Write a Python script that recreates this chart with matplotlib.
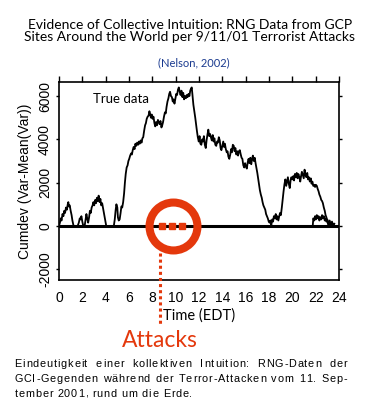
import matplotlib
matplotlib.use("Agg")
import matplotlib.pyplot as plt
import matplotlib.transforms as mtransforms

# cumulative deviation (hours EDT, cumdev)
hours = [0.0, 0.08, 0.15, 0.22, 0.3, 0.38, 0.45, 0.52, 0.6, 0.68, 0.75, 0.8, 0.85, 0.92, 1.0, 1.08, 1.15, 1.25,
         1.6, 1.7, 1.78, 1.85, 1.92, 2.0, 2.08, 2.2, 2.28, 2.35, 2.42, 2.5, 2.58, 2.65, 2.72, 2.8, 2.88, 2.95,
         3.02, 3.1, 3.18, 3.25, 3.32, 3.4, 3.48, 3.55, 3.62, 3.7, 3.78, 3.85, 3.95, 4.05, 4.7, 4.78, 4.85, 4.92,
         5.0, 5.05, 5.12, 5.2, 5.28, 5.35, 5.42, 5.5, 5.58, 5.65, 5.72, 5.8, 5.88, 5.95, 6.02, 6.1, 6.18, 6.25,
         6.32, 6.4, 6.48, 6.55, 6.62, 6.7, 6.78, 6.85, 6.92, 7.0, 7.08, 7.15, 7.22, 7.3, 7.38, 7.45, 7.52, 7.6,
         7.68, 7.75, 7.8, 7.88, 7.95, 8.02, 8.1, 8.18, 8.25, 8.32, 8.4, 8.48, 8.55, 8.62, 8.7, 8.78, 8.85, 8.92,
         9.0, 9.08, 9.15, 9.22, 9.3, 9.38, 9.45, 9.52, 9.6, 9.68, 9.75, 9.82, 9.9, 9.98, 10.05, 10.12, 10.2,
         10.27, 10.35, 10.42, 10.5, 10.58, 10.65, 10.72, 10.8, 10.88, 10.95, 11.02, 11.1, 11.18, 11.25, 11.32,
         11.38, 11.45, 11.52, 11.6, 11.68, 11.75, 11.82, 11.9, 11.98, 12.05, 12.12, 12.2, 12.28, 12.35, 12.42,
         12.5, 12.58, 12.65, 12.72, 12.8, 12.88, 12.95, 13.02, 13.1, 13.18, 13.25, 13.32, 13.4, 13.48, 13.55,
         13.62, 13.7, 13.78, 13.85, 13.92, 14.0, 14.08, 14.15, 14.22, 14.3, 14.38, 14.45, 14.52, 14.6, 14.68,
         14.75, 14.82, 14.9, 14.98, 15.05, 15.12, 15.2, 15.28, 15.35, 15.42, 15.5, 15.58, 15.65, 15.72, 15.8,
         15.88, 15.95, 16.02, 16.1, 16.18, 16.25, 16.32, 16.4, 16.48, 16.55, 16.62, 16.7, 16.78, 16.85, 16.92,
         17.0, 17.08, 17.15, 17.22, 17.3, 17.38, 17.45, 17.52, 17.6, 17.68, 17.75, 17.82, 17.9, 17.98, 18.05,
         18.12, 18.2, 18.28, 18.35, 18.42, 18.5, 18.58, 18.65, 18.72, 18.8, 18.88, 18.95, 19.02, 19.1, 19.18,
         19.25, 19.32, 19.4, 19.48, 19.55, 19.62, 19.7, 19.78, 19.85, 19.92, 20.0, 20.08, 20.15, 20.22, 20.3,
         20.38, 20.45, 20.52, 20.6, 20.68, 20.75, 20.82, 20.9, 20.98, 21.05, 21.12, 21.2, 21.28, 21.35, 21.42,
         21.5, 21.58, 21.65, 21.72, 21.8, 21.88, 21.95, 22.02, 22.1, 22.18, 22.25, 22.32, 22.4, 22.48, 22.55,
         22.62, 22.7, 22.78, 22.85, 22.92, 23.0, 23.08, 23.18, 23.25, 23.3, 23.4, 23.5, 23.6, 23.7, 24.0]
cumdev = [0, 150, 350, 250, 550, 450, 700, 600, 850, 750, 1000, 1100, 900, 950, 700, 500, 250, 0,
          0, 150, 350, 300, 450, 200, 0, 0, 300, 550, 350, 150, 400, 700, 600, 850, 950, 1100,
          950, 1200, 1050, 1300, 1150, 1400, 1100, 1250, 950, 1050, 800, 600, 300, 0, 0, 300, 700, 1000,
          850, 400, 250, 300, 600, 900, 850, 1100, 1500, 2000, 2400, 2700, 2800, 3000, 3100, 3250, 3350, 3300,
          3500, 3650, 3550, 3800, 3700, 3850, 3750, 3900, 3800, 3950, 3850, 4050, 4100, 4400, 4650, 4750, 4950, 5050,
          5100, 5300, 5200, 5000, 5150, 4950, 5050, 4750, 4600, 4800, 4650, 4900, 4800, 4700, 4850, 4550, 4650, 4800,
          5050, 5250, 5200, 5500, 5750, 5900, 6100, 6200, 6000, 5950, 5750, 5850, 5650, 5900, 6100, 6050, 6300,
          6400, 6200, 6050, 6250, 5950, 6150, 5850, 6000, 5900, 6050, 5950, 6100, 6000, 6250, 6350,
          6400, 6000, 5600, 5300, 5000, 4700, 4400, 4100, 3900, 4150, 3800, 3750, 4000, 3900, 4150,
          3750, 3600, 3950, 4200, 4450, 4150, 4250, 4100, 3950, 4200, 3900, 4050, 3750, 3700, 3900,
          3850, 4100, 3950, 3600, 3500, 3700, 3900, 3650, 3800, 3550, 3400, 3450, 3200, 3100, 3300,
          3550, 3400, 3750, 3700, 3450, 3600, 3300, 3450, 3250, 3450, 3500, 3300, 3150, 3100, 2800,
          2700, 2900, 2750, 2650, 2950, 3100, 2900, 3150, 2850, 3100, 3250, 3000, 3150, 2900, 2700,
          2450, 2150, 1900, 1650, 1450, 1300, 1100, 950, 850, 750, 550, 450, 350, 200, 150,
          250, 50, 300, 200, 450, 350, 550, 300, 450, 250, 450, 600, 500, 850, 1250,
          1600, 1900, 2150, 1850, 2050, 2250, 1950, 1750, 2100, 2250, 2150, 2300, 2100, 2400, 2250,
          2450, 2200, 2400, 2250, 2050, 2300, 2500, 2350, 2200, 2600, 2400, 2250, 2450, 2150, 2250,
          2050, 2200, 1950, 2050, 1850, 1900, 1800, 1900, 1850, 1700, 1600, 1450, 1350, 1200, 1150,
          1050, 850, 700, 500, 400, 200, 50, 150, 0, 150, 0, 100, 0, 0, 0]

# second, short noisy trace near the end of the day
late_hours = [21.75, 21.8, 21.88, 21.95, 22.02, 22.1, 22.18, 22.25, 22.32, 22.4, 22.48, 22.55, 22.62, 22.7,
              22.78, 22.85, 22.92, 23.0, 23.1, 23.2, 23.3, 23.4, 23.5, 23.6]
late_cumdev = [0, 350, 250, 450, 300, 500, 350, 450, 250, 400, 300, 500, 350, 450,
               250, 350, 200, 300, 100, 250, 50, 200, 0, 100]

attack_times = [8.85, 9.72, 10.58]
circle_time = 9.75
pointer_time = 8.66
x_ticks = list(range(0, 25, 2))
y_ticks = [-2000, 0, 2000, 4000, 6000]

RED = "#e4380c"
TITLE_FONT = "Lato"
TICK_FONT = "Liberation Sans"

fig = plt.figure(figsize=(3.71, 4.20), dpi=100)
ax = fig.add_axes([0.159, 0.3333, 0.7547, 0.4714])

ax.plot(hours, cumdev, color="black", lw=1.3, zorder=3)
ax.plot(late_hours, late_cumdev, color="black", lw=1.3, zorder=3)
ax.axhline(0, color="black", lw=2.2, zorder=4)

# red ring + attack markers
ax.plot([circle_time], [0], marker="o", ms=34.5, mfc="none", mec=RED, mew=5.8, zorder=5, clip_on=False)
ax.plot(attack_times, [0] * len(attack_times), ls="none", marker="s", ms=4.6, color=RED, zorder=6)

# dotted pointer down to the label
trans = mtransforms.blended_transform_factory(ax.transData, ax.transAxes)
ax.plot([pointer_time, pointer_time], [0.136, -0.227], transform=trans, color=RED,
        lw=2.2, ls=(0, (1, 1)), clip_on=False, zorder=6)
ax.text(pointer_time, -0.34, "Attacks", transform=trans, ha="center", va="baseline",
        fontsize=16.5, color=RED, family=TITLE_FONT)

ax.set_xlim(0, 24)
ax.set_ylim(-2500, 6650)
ax.set_xticks(x_ticks)
ax.set_yticks(y_ticks)
ax.set_xticklabels([str(t) for t in x_ticks], family=TICK_FONT, fontsize=10)
ax.set_yticklabels([str(v) for v in y_ticks], family=TICK_FONT, fontsize=10,
                   rotation=90, va="center")
ax.tick_params(axis="x", bottom=False, top=True, direction="out", length=4, width=1, pad=4)
ax.tick_params(axis="y", left=True, right=True, direction="out", length=2, width=1, pad=3)
ax.tick_params(axis="y", which="both", labelright=False)
for side in ax.spines.values():
    side.set_linewidth(1.2)

ax.set_xlabel("Time (EDT)", family=TITLE_FONT, fontsize=10.5, labelpad=2)
ax.set_ylabel("Cumdev (Var-Mean(Var))", family=TICK_FONT, fontsize=10, labelpad=4)
ax.text(0.12, 0.895, "True data", transform=ax.transAxes, family=TITLE_FONT, fontsize=9.5)

fig.text(0.512, 0.926, "Evidence of Collective Intuition: RNG Data from GCP\n"
         "Sites Around the World per 9/11/01 Terrorist Attacks",
         ha="center", va="center", family=TITLE_FONT, fontsize=10, linespacing=1.08)
fig.text(0.523, 0.85, "(Nelson, 2002)", ha="center", va="center", family=TITLE_FONT,
         fontsize=8, color="#1a3a8f")

# caption underneath: letter-spaced, first two lines justified
caption = ["Eindeutigkeit einer kollektiven Intuition: RNG-Daten der",
           "GCI-Gegenden während der Terror-Attacken vom 11. Sep-",
           "tember 2001, rund um die Erde."]
left, right = 14.5 / 371, 347 / 371
baselines = [1 - 367 / 420, 1 - 382 / 420, 1 - 397 / 420]
tracking = 0.8 / 371
renderer = fig.canvas.get_renderer()
for i, line in enumerate(caption):
    chars = [fig.text(left, baselines[i], c, family=TICK_FONT, fontsize=7.8, va="baseline")
             for c in line]
    widths = []
    for c, t in zip(line, chars):
        if c == " ":
            widths.append(0.28 * 7.8 / 72 * 100 / fig.bbox.width)
        else:
            widths.append(t.get_window_extent(renderer).width / fig.bbox.width)
    natural = sum(widths) + tracking * (len(line) - 1)
    n_spaces = line.count(" ")
    extra = (right - left - natural) / n_spaces if i < len(caption) - 1 else 0
    x = left
    for c, t, w in zip(line, chars, widths):
        t.set_x(x)
        x += w + tracking
        if c == " ":
            x += extra

fig.savefig("out.png", dpi=100)
